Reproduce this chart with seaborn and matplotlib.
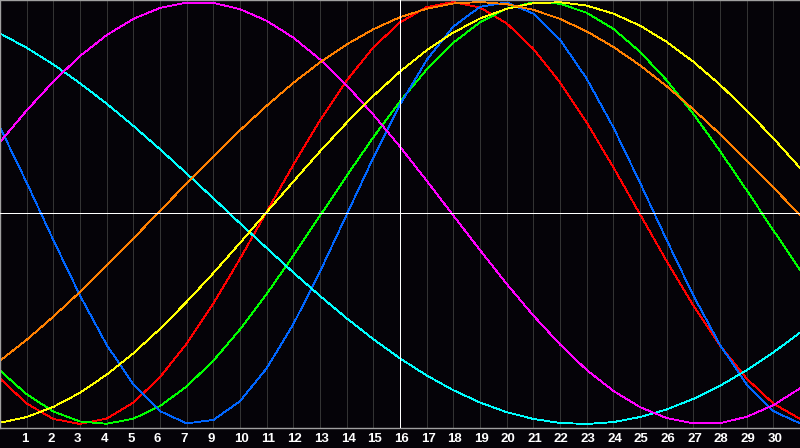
import numpy as np
import pandas as pd
import matplotlib
matplotlib.use("Agg")
import matplotlib.pyplot as plt
import matplotlib.transforms as mtransforms
import seaborn as sns

# ============================================================
# DATA (one value per day)
# ============================================================

days = list(range(31))

red = [-0.785, -0.903, -0.976, -1.000, -0.974, -0.899, -0.778, -0.619, -0.429, -0.217, 0.006,
       0.228, 0.439, 0.628, 0.785, 0.903, 0.976, 1.000, 0.974, 0.899, 0.778, 0.619, 0.429,
       0.217, -0.006, -0.228, -0.439, -0.628, -0.785, -0.903, -0.976]
green = [-0.747, -0.859, -0.941, -0.988, -0.999, -0.975, -0.915, -0.822, -0.700, -0.552, -0.384,
         -0.202, -0.013, 0.176, 0.359, 0.529, 0.680, 0.807, 0.904, 0.969, 0.998, 0.992, 0.949,
         0.873, 0.764, 0.629, 0.470, 0.294, 0.108, -0.082, -0.269]
blue = [0.406, 0.144, -0.128, -0.391, -0.625, -0.812, -0.939, -0.997, -0.981, -0.892, -0.736,
        -0.527, -0.278, -0.008, 0.262, 0.513, 0.725, 0.884, 0.977, 0.998, 0.945, 0.822, 0.637,
        0.406, 0.144, -0.128, -0.391, -0.625, -0.812, -0.939, -0.997]
cyan = [0.851, 0.783, 0.704, 0.615, 0.518, 0.413, 0.302, 0.187, 0.070, -0.049, -0.166, -0.282,
        -0.393, -0.499, -0.598, -0.689, -0.770, -0.840, -0.898, -0.944, -0.976, -0.995, -1.000,
        -0.991, -0.967, -0.931, -0.881, -0.819, -0.745, -0.661, -0.567]
magenta = [0.336, 0.486, 0.623, 0.744, 0.843, 0.920, 0.972, 0.997, 0.996, 0.966, 0.911, 0.831,
           0.728, 0.605, 0.466, 0.314, 0.153, -0.012, -0.176, -0.336, -0.486, -0.623, -0.744,
           -0.843, -0.920, -0.972, -0.997, -0.996, -0.966, -0.911, -0.831]
yellow = [-0.994, -0.967, -0.919, -0.852, -0.766, -0.665, -0.549, -0.421, -0.285, -0.142, 0.004,
          0.149, 0.292, 0.428, 0.555, 0.670, 0.771, 0.855, 0.922, 0.968, 0.994, 0.999, 0.983,
          0.945, 0.888, 0.811, 0.717, 0.608, 0.486, 0.354, 0.214]
orange = [-0.700, -0.601, -0.491, -0.374, -0.249, -0.121, 0.010, 0.140, 0.268, 0.392, 0.508,
          0.617, 0.714, 0.799, 0.871, 0.928, 0.968, 0.993, 1.000, 0.990, 0.963, 0.920, 0.861,
          0.787, 0.700, 0.601, 0.491, 0.374, 0.249, 0.121, -0.010]

# tick slots and their labels (the chart skips "8")
tick_slots = list(range(1, 30))
tick_labels = ["1", "2", "3", "4", "5", "6", "7", "9", "10", "11", "12", "13", "14", "15",
               "16", "17", "18", "19", "20", "21", "22", "23", "24", "25", "26", "27", "28",
               "29", "30"]
today_slot = 15

series = {
    "red": red,
    "green": green,
    "blue": blue,
    "cyan": cyan,
    "magenta": magenta,
    "yellow": yellow,
    "orange": orange,
}
palette = {
    "red": "#ff0000",
    "green": "#00ff00",
    "blue": "#0066ff",
    "cyan": "#00ffff",
    "magenta": "#ff00ff",
    "yellow": "#ffff00",
    "orange": "#ff8000",
}

df = pd.concat(
    [pd.DataFrame({"day": days, "value": vals, "cycle": name}) for name, vals in series.items()],
    ignore_index=True,
)

# ============================================================
# PLOT
# ============================================================

sns.set_style("dark")
bg = "#050308"

fig = plt.figure(figsize=(8, 4.48), dpi=100, facecolor=bg)
ax = fig.add_axes([0, 20 / 448, 1, 428 / 448])
ax.set_facecolor(bg)

for k in tick_slots:
    ax.axvline(k, color="#333333", linewidth=0.72, zorder=1, antialiased=False)

sns.lineplot(
    data=df, x="day", y="value", hue="cycle", palette=palette,
    hue_order=list(series.keys()), legend=False, linewidth=0.6,
    antialiased=False, ax=ax, zorder=2,
)

ax.axhline(0, color="white", linewidth=0.72, zorder=3, antialiased=False)
ax.axvline(today_slot, color="white", linewidth=0.72, zorder=3, antialiased=False)

ax.set_xlim(0, 30)
ax.set_ylim(-1.019, 1.0095)
ax.set_xlabel("")
ax.set_ylabel("")
ax.set_yticks([])
ax.grid(False)

ax.set_xticks(tick_slots)
ax.set_xticklabels(tick_labels)
ax.tick_params(axis="x", length=0, pad=3.5, colors="white")
shift = mtransforms.ScaledTranslation(-6 / 100, 0, fig.dpi_scale_trans)
for lbl in ax.get_xticklabels():
    lbl.set_horizontalalignment("left")
    lbl.set_fontfamily("Liberation Sans")
    lbl.set_fontweight("bold")
    lbl.set_fontsize(9.5)
    lbl.set_transform(lbl.get_transform() + shift)

for side in ["left", "top", "bottom"]:
    ax.spines[side].set_visible(True)
    ax.spines[side].set_color("#a0a0a0")
    ax.spines[side].set_linewidth(1.0)
ax.spines["right"].set_visible(False)

fig.savefig("out.png", dpi=100, facecolor=bg)
plt.close(fig)
